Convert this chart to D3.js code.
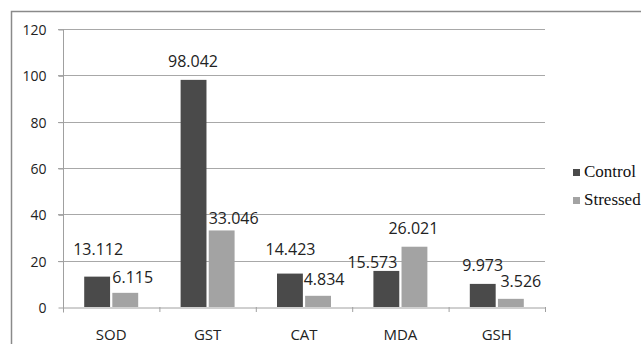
<!DOCTYPE html>
<html>
<head>
<meta charset="utf-8">
<script src="https://cdn.jsdelivr.net/npm/d3@7"></script>
<style>
  html, body { margin: 0; padding: 0; background: #fff; }
  svg { display: block; }
</style>
</head>
<body>
<svg id="chart" width="641" height="344"></svg>
<script>
// Enzyme activity, control vs stressed
const categories = ["SOD", "GST", "CAT", "MDA", "GSH"];
const seriesNames = ["Control", "Stressed"];
const controlValues = [13.112, 98.042, 14.423, 15.573, 9.973];
const stressedValues = [6.115, 33.046, 4.834, 26.021, 3.526];
const yTicks = [0, 20, 40, 60, 80, 100, 120];

// label nudges (dx, dy from bar top), Control then Stressed
const labelNudge = {
  Control:  [[1, -21.5], [-0.5, -13], [0.5, -18.5], [-14, -3], [0, -13]],
  Stressed: [[7.5, -10], [12, -6.5], [6, -11], [-1, -12.7], [10, -12]]
};

const colors = { Control: "#4a4a4a", Stressed: "#a3a3a3" };

const svg = d3.select("#chart");
const plotLeft = 63, plotRight = 545, plotTop = 29, plotBottom = 307;

const x0 = d3.scaleBand().domain(categories).range([plotLeft, plotRight])
  .paddingInner(0.44).paddingOuter(0.22);
const x1 = d3.scaleBand().domain(seriesNames).range([0, x0.bandwidth()])
  .paddingInner(0.08);
const y = d3.scaleLinear().domain([0, 120]).range([plotBottom, plotTop]);

// outer frame (left and top edges)
svg.append("path")
  .attr("d", "M11.5,344 L11.5,11.5 L641,11.5")
  .attr("fill", "none").attr("stroke", "#8a8a8a").attr("stroke-width", 1.5);

// gridlines
svg.append("g").selectAll("line").data(yTicks.filter(t => t > 0)).join("line")
  .attr("x1", plotLeft - 5).attr("x2", plotRight)
  .attr("y1", d => Math.round(y(d)) + 0.5).attr("y2", d => Math.round(y(d)) + 0.5)
  .attr("stroke", "#a8a8a8").attr("stroke-width", 1.2);

// y axis
const yAxis = d3.axisLeft(y).tickValues(yTicks).tickSize(5).tickPadding(12);
const gy = svg.append("g").attr("transform", `translate(${plotLeft + 0.5},0.5)`).call(yAxis);
gy.select(".domain").attr("stroke", "#a0a0a0").attr("d", `M0,${plotTop}V${plotBottom + 5}`);
gy.selectAll(".tick line").attr("stroke", "#a0a0a0");
gy.selectAll(".tick text")
  .attr("font-family", "'Open Sans', sans-serif").attr("font-size", 14)
  .attr("fill", "#222").attr("dy", "0.36em");

// bars
const rows = categories.map((c, i) => ({
  cat: c, i,
  vals: [
    { s: "Control", v: controlValues[i] },
    { s: "Stressed", v: stressedValues[i] }
  ]
}));

const groups = svg.append("g").selectAll("g").data(rows).join("g")
  .attr("transform", d => `translate(${x0(d.cat)},0)`);

groups.selectAll("rect").data(d => d.vals).join("rect")
  .attr("x", d => x1(d.s))
  .attr("y", d => y(d.v))
  .attr("width", x1.bandwidth())
  .attr("height", d => plotBottom - y(d.v))
  .attr("fill", d => colors[d.s]);

// x axis
const xAxis = d3.axisBottom(x0).tickSize(0).tickPadding(22);
const gx = svg.append("g").attr("transform", `translate(0,${plotBottom + 0.5})`).call(xAxis);
gx.select(".domain").attr("stroke", "#a0a0a0");
gx.selectAll(".tick text")
  .attr("font-family", "'Open Sans', sans-serif").attr("font-size", 15)
  .attr("fill", "#222");
// category separators
svg.append("g").selectAll("line").data(d3.range(categories.length + 1)).join("line")
  .attr("x1", i => plotLeft + 0.5 + i * x0.step()).attr("x2", i => plotLeft + 0.5 + i * x0.step())
  .attr("y1", plotBottom).attr("y2", plotBottom + 5)
  .attr("stroke", "#a0a0a0");

// value labels
groups.selectAll("text.val").data(d => d.vals.map(v => ({ ...v, i: d.i }))).join("text")
  .attr("class", "val")
  .attr("x", d => x1(d.s) + x1.bandwidth() / 2 + labelNudge[d.s][d.i][0])
  .attr("y", d => y(d.v) + labelNudge[d.s][d.i][1])
  .attr("text-anchor", "middle")
  .attr("font-family", "'Open Sans', sans-serif").attr("font-size", 16)
  .attr("fill", "#222")
  .text(d => d.v.toFixed(3));

// legend
const legend = svg.append("g").attr("transform", "translate(573,169)");
seriesNames.forEach((s, k) => {
  const g = legend.append("g").attr("transform", `translate(0,${k * 28})`);
  g.append("rect").attr("width", 7).attr("height", 7).attr("fill", colors[s]);
  g.append("text").attr("x", 11).attr("y", 8)
    .attr("font-family", "'Liberation Serif', 'Times New Roman', serif")
    .attr("font-size", 17).attr("fill", "#111").text(s);
});
</script>
</body>
</html>
